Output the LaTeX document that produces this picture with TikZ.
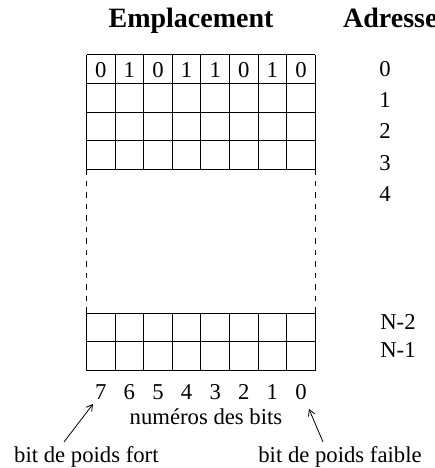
\documentclass[tikz,border=0pt]{standalone}
\usepackage{fontspec}
\setmainfont{Liberation Serif}
\usetikzlibrary{arrows.meta}
\begin{document}
\begin{tikzpicture}[x=1pt,y=-1pt,
  grid/.style={line width=1pt},
  dashside/.style={line width=1pt, dash pattern=on 5.5pt off 6pt},
  txt/.style={font=\fontsize{22.7}{27}\selectfont, inner sep=0pt, anchor=base},
  title/.style={font=\fontsize{28}{33}\selectfont\bfseries, inner sep=0pt, anchor=base},
  pointer/.style={line width=0.8pt, -{Straight Barb[length=6pt,width=7pt]}}]
\useasboundingbox (0,0) rectangle (435,468);
\def\L{86.5}\def\R{315.3}\def\cw{28.6}
% titles
\node[title] (tEmp) at (191,28) {Emplacement};
\node[title, anchor=base west] (tAdr) at (343,28) {Adresses};
% top block: 4 rows
\foreach \r in {0,...,4} {\draw[grid] (\L,{55+\r*28.6}) -- (\R,{55+\r*28.6});}
\foreach \c in {0,...,8} {\draw[grid] ({\L+\c*\cw},55) -- ({\L+\c*\cw},169.4);}
% bottom block: 2 rows
\foreach \r in {0,...,2} {\draw[grid] (\L,{313.3+\r*28.6}) -- (\R,{313.3+\r*28.6});}
\foreach \c in {0,...,8} {\draw[grid] ({\L+\c*\cw},313.3) -- ({\L+\c*\cw},370.5);}
% dashed sides
\draw[dashside] (\L,169.4) -- (\L,313.3);
\draw[dashside] (\R,169.4) -- (\R,313.3);
% bit values
\foreach \v [count=\i from 0] in {0,1,0,1,1,0,1,0} {
  \node[txt] (v\i) at ({\L+(\i+0.5)*\cw},78) {\v};}
% addresses
\foreach \a [count=\i from 0] in {0,1,2,3,4} {
  \node[txt] (a\i) at (385,{77+31*\i}) {\a};}
\node[txt] (aN2) at (398,329) {N-2};
\node[txt] (aN1) at (398,357) {N-1};
% bit numbers
\foreach \b [count=\i from 0] in {7,6,5,4,3,2,1,0} {
  \node[txt] (b\b) at ({\L+(\i+0.5)*\cw},399) {\b};}
\node[txt] (num) at (206,424) {numéros des bits};
\node[txt, anchor=base west] (fort) at (14,462) {bit de poids fort};
\node[txt] (faible) at (340,462) {bit de poids faible};
% pointers
\coordinate (fortT) at (64,442);
\coordinate (fortH) at (93,404);
\coordinate (faibleT) at (323,442);
\coordinate (faibleH) at (309,409);
\draw[pointer] (fortT) -- (fortH);
\draw[pointer] (faibleT) -- (faibleH);
\end{tikzpicture}
\end{document}
